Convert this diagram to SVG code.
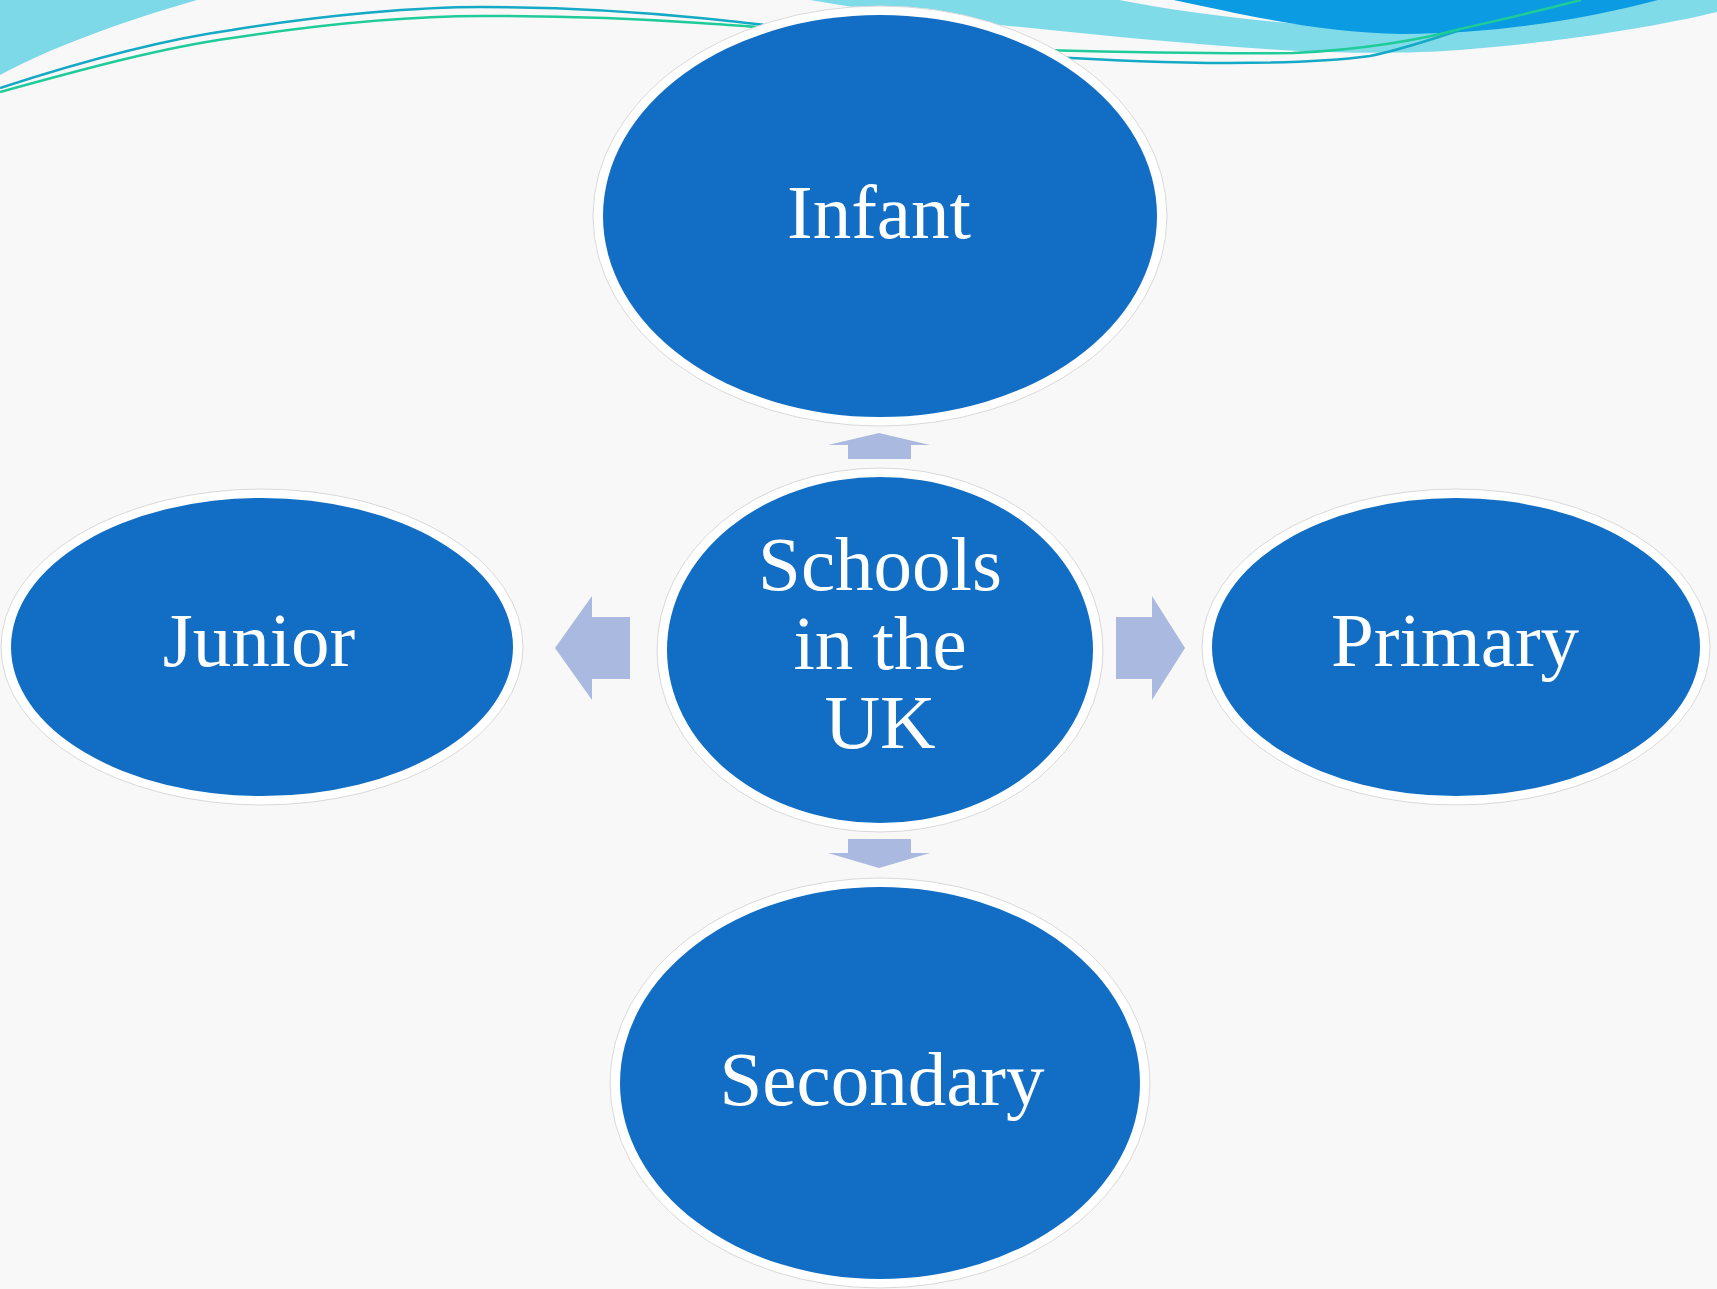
<svg xmlns="http://www.w3.org/2000/svg" width="1717" height="1289" viewBox="0 0 1717 1289">
<style>
.ring{fill:#ffffff;stroke:#d9d9d9;stroke-width:1}
.blob{fill:#116ec4}
.lbl{font-family:"Liberation Serif","Times New Roman",serif;font-size:77px;fill:#ffffff;text-anchor:middle}
.arr{fill:#aab9df}
.teal{fill:none;stroke:#14a9c4;stroke-width:2.5}
.green{fill:none;stroke:#1fcb98;stroke-width:2.5}
</style>
<rect width="1717" height="1289" fill="#f8f8f8"/>
<g id="decoration">
<path d="M0,0 L197,0 C120,22 50,48 0,75 Z" fill="#7dd8e8"/>
<path d="M810,0 C880,12 940,20 1000,25 C1100,35 1200,46 1300,51 C1360,54 1420,53 1460,50 C1560,42 1650,28 1717,12 L1717,0 Z" fill="#80dbe9"/>
<path d="M1119,0 C1180,12 1250,20 1320,26 C1280,18 1220,8 1174,0 Z" fill="#f8f8f8"/>
<path d="M1174,0 C1240,14 1320,33 1402,34 C1500,34 1590,18 1658,0 Z" fill="#0a9be2"/>
<path class="teal" d="M0,88 C80,62 160,40 232,30 C330,14 420,7 482,7 C560,7 640,12 700,18 C730,21 760,24 780,27"/>
<path class="green" d="M0,92 C80,70 160,48 232,38 C330,23 420,16 482,16 C560,16 640,19 700,23 C730,25 760,27 780,29"/>
<path class="teal" d="M1040,56 C1100,60 1170,63 1229,63 C1290,63 1340,60 1370,56 C1400,50 1430,40 1460,30"/>
<path class="green" d="M1040,50 C1120,52 1210,54 1293,53 C1360,50 1420,40 1460,29 C1500,20 1550,8 1581,0"/>
</g>
<g id="connectors">
<polygon class="arr" points="879,433 930,445 911,445 911,459 848,459 848,445 828,445"/>
<polygon class="arr" points="848,839 911,839 911,853 930,853 879,868 828,853 848,853"/>
<polygon class="arr" points="555,648 592,596 592,617 630,617 630,679 592,679 592,700"/>
<polygon class="arr" points="1116,617 1152,617 1152,596 1185,648 1152,700 1152,679 1116,679"/>
</g>
<g id="node-infant">
<ellipse class="ring" cx="880" cy="216" rx="287" ry="210"/>
<ellipse class="blob" cx="880" cy="216" rx="277" ry="201"/>
<text class="lbl" x="879" y="238">Infant</text>
</g>
<g id="node-center">
<ellipse class="ring" cx="880" cy="650" rx="223" ry="182"/>
<ellipse class="blob" cx="880" cy="650" rx="213" ry="173"/>
<text class="lbl" x="880" y="590">Schools</text>
<text class="lbl" x="880" y="669">in the</text>
<text class="lbl" x="880" y="748">UK</text>
</g>
<g id="node-junior">
<ellipse class="ring" cx="262" cy="647" rx="261" ry="158"/>
<ellipse class="blob" cx="262" cy="647" rx="251" ry="149"/>
<text class="lbl" x="259" y="666">Junior</text>
</g>
<g id="node-primary">
<ellipse class="ring" cx="1456" cy="647" rx="254" ry="158"/>
<ellipse class="blob" cx="1456" cy="647" rx="244" ry="149"/>
<text class="lbl" x="1455" y="666">Primary</text>
</g>
<g id="node-secondary">
<ellipse class="ring" cx="880" cy="1083" rx="270" ry="205"/>
<ellipse class="blob" cx="880" cy="1083" rx="260" ry="196"/>
<text class="lbl" x="882" y="1105">Secondary</text>
</g>
</svg>
